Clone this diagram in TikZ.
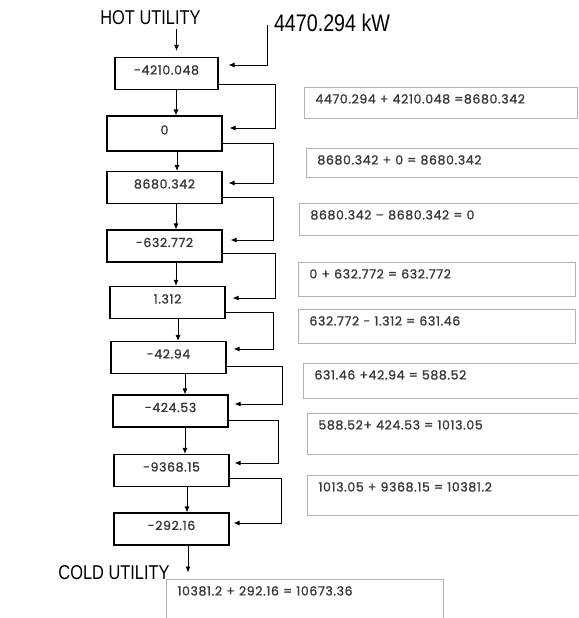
\documentclass[tikz,border=0pt]{standalone}
\usepackage{fontspec}
\setmainfont{Liberation Sans}
\newfontfamily\utilfont[FakeStretch=0.82]{Liberation Sans}
\newfontfamily\numfont[LetterSpace=5, FakeBold=1.2]{Poppins}
\usepackage{tikz}
\usetikzlibrary{arrows.meta,positioning,calc}
\definecolor{boxGray}{RGB}{178,178,178}
\definecolor{numInk}{RGB}{55,55,55}

\begin{document}
\begin{tikzpicture}[x=1pt, y=-1pt,
  stream/.style={draw, line width=1.1pt, minimum width=115pt, minimum height=32pt, inner sep=0pt,
    text height=8pt, text depth=6pt, font=\numfont\fontsize{12.5}{14}\selectfont, text=numInk},
  calcbox/.style={draw=boxGray, line width=0.9pt, anchor=north west, inner xsep=11pt, inner ysep=6pt,
    text height=10pt, align=left, font=\numfont\fontsize{12.5}{14}\selectfont, text=numInk},
  util/.style={inner sep=0pt, font=\utilfont\fontsize{20}{24}\selectfont},
  arr/.style={line width=0.9pt, -{Latex[length=6pt,width=5pt]}}]
  \useasboundingbox (0,0) rectangle (578,618);
  \clip (0,0) rectangle (578,618);
  % Cascade
  \node[util] (hot) at (150.5,17.5) {HOT UTILITY};
  \node[util, font=\utilfont\fontsize{24}{28}\selectfont] (kw) at (332,23) {4470.294 kW};
  \node[stream, minimum width=103pt] (b1) at (166.5,73.5) {-4210.048};
  \node[stream, minimum height=35pt] (b2) at (164.5,133.5) {0};
  \node[stream] (b3) at (164.5,187.5) {8680.342};
  \node[stream] (b4) at (164.5,246) {-632.772};
  \node[stream] (b5) at (167.5,302.5) {1.312};
  \node[stream] (b6) at (168.5,357.5) {-42.94};
  \node[stream] (b7) at (170.5,411) {-424.53};
  \node[stream] (b8) at (171.5,470.5) {-9368.15};
  \node[stream] (b9) at (171.5,529) {-292.16};
  \node[util] (cold) at (114,572.5) {COLD UTILITY};
  % Sums
  \node[calcbox, text width=251pt, text depth=9pt] (eq1) at (304,87) {4470.294 + 4210.048 =8680.342};
  \node[calcbox, text width=254pt, text depth=7pt] (eq2) at (306,148) {8680.342 + 0 = 8680.342};
  \node[calcbox, text width=261pt, text depth=10pt] (eq3) at (299,203) {8680.342 – 8680.342 = 0};
  \node[calcbox, text width=255pt, text depth=12pt] (eq4) at (298,262) {0 + 632.772 = 632.772};
  \node[calcbox, text width=255pt, text depth=12pt] (eq5) at (298,309) {632.772 - 1.312 = 631.46};
  \node[calcbox, text width=257pt, text depth=13pt] (eq6) at (303,363) {631.46 +42.94 = 588.52};
  \node[calcbox, text width=253pt, text depth=19pt] (eq7) at (307,413) {588.52+ 424.53 = 1013.05};
  \node[calcbox, text width=253pt, text depth=18pt] (eq8) at (307,475) {1013.05 + 9368.15 = 10381.2};
  \node[calcbox, text width=255pt, text depth=24pt] (eq9) at (166,579) {10381.2 + 292.16 = 10673.36};
  % Arrows
  \draw[arr, shorten >=6pt] ([xshift=26pt,yshift=-4pt]hot.south) -- ([xshift=26pt]hot.south |- b1.north);
  \draw[arr] ([xshift=9.5pt]b1.south) -- ([xshift=9.5pt]b1.south |- b2.north);
  \draw[arr] ([xshift=12.5pt]b2.south) -- ([xshift=12.5pt]b2.south |- b3.north);
  \draw[arr] ([xshift=11.5pt]b3.south) -- ([xshift=11.5pt]b3.south |- b4.north);
  \draw[arr] ([xshift=11.5pt]b4.south) -- ([xshift=11.5pt]b4.south |- b5.north);
  \draw[arr] ([xshift=10.5pt]b5.south) -- ([xshift=10.5pt]b5.south |- b6.north);
  \draw[arr] ([xshift=16.5pt]b6.south) -- ([xshift=16.5pt]b6.south |- b7.north);
  \draw[arr] ([xshift=14.5pt]b7.south) -- ([xshift=14.5pt]b7.south |- b8.north);
  \draw[arr] ([xshift=15.5pt]b8.south) -- ([xshift=15.5pt]b8.south |- b9.north);
  \draw[arr] ([xshift=16.5pt]b9.south) -- ([xshift=16.5pt]b9.south |- cold.east);
  % Surplus passed down
  \draw[arr] ([xshift=-6pt,yshift=-2pt]kw.west) |- ([xshift=10pt,yshift=8.5pt]b1.east);
  \draw[arr] ([yshift=-10.5pt]b1.east) -- ++(57,0) |- ([xshift=7pt,yshift=5.5pt]b2.east);
  \draw[arr] ([yshift=-9.5pt]b2.east) -- ++(51,0) |- ([xshift=6pt,yshift=4.5pt]b3.east);
  \draw[arr] ([yshift=-9.5pt]b3.east) -- ++(51,0) |- ([xshift=8pt,yshift=6pt]b4.east);
  \draw[arr] ([yshift=-7pt]b4.east) -- ++(53,0) |- ([xshift=7pt,yshift=4.5pt]b5.east);
  \draw[arr] ([yshift=-9.5pt]b5.east) -- ++(48,0) |- ([xshift=7pt,yshift=8.5pt]b6.east);
  \draw[arr] ([yshift=-8.5pt]b6.east) -- ++(56,0) |- ([xshift=6pt,yshift=7pt]b7.east);
  \draw[arr] ([yshift=-9pt]b7.east) -- ++(50,0) |- ([xshift=5pt,yshift=7.5pt]b8.east);
  \draw[arr] ([yshift=-7.5pt]b8.east) -- ++(52,0) |- ([xshift=4pt,yshift=6pt]b9.east);
\end{tikzpicture}
\end{document}
